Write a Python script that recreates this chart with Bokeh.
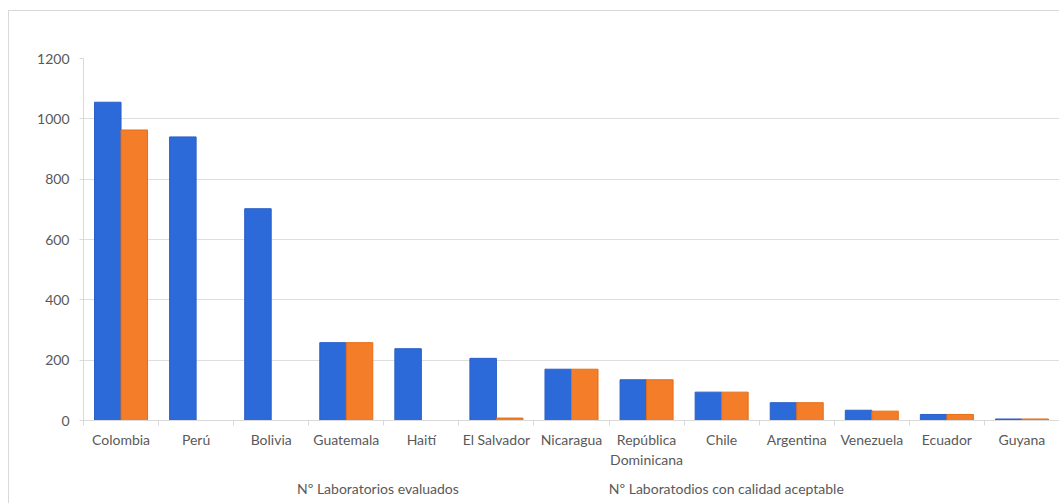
from bokeh.plotting import figure
from bokeh.layouts import column
from bokeh.models import (ColumnDataSource, Range1d, LinearAxis, FixedTicker, Legend, LegendItem)
from bokeh.embed import file_html
from bokeh.resources import INLINE

paises = ["Colombia", "Perú", "Bolivia", "Guatemala", "Haití", "El Salvador", "Nicaragua",
          "República\nDominicana", "Chile", "Argentina", "Venezuela", "Ecuador", "Guyana"]
evaluados = [1055, 940, 702, 258, 238, 206, 170, 135, 94, 59, 34, 20, 5]
aceptables = [963, 0, 0, 258, 0, 8, 170, 135, 94, 59, 31, 20, 5]
y_ticks = [0, 200, 400, 600, 800, 1000, 1200]

serie_1 = "Nº Laboratorios evaluados"
serie_2 = "Nº Laboratodios con calidad aceptable"

AZUL = "#2d6ad9"
NARANJA = "#f47d29"
BORDE_AZUL = "#2a5fc6"
BORDE_NARANJA = "#e56d17"
GRIS_TXT = "#595959"
GRIS_LIN = "#d9d9d9"
FUENTE = "Lato"

n = len(paises)
w = 0.353
centros = [i + 0.5 for i in range(n)]
limites = list(range(n + 1))
src = ColumnDataSource(dict(
    x_ev=[c - w / 2 for c in centros], x_ac=[c + w / 2 for c in centros],
    evaluados=evaluados, aceptables=aceptables))

p = figure(x_range=Range1d(0, n), y_range=Range1d(0, 1200),
           width=1050, height=462, output_backend="svg", toolbar_location=None,
           x_axis_location=None, min_border_left=74, min_border_right=0,
           min_border_top=47, min_border_bottom=53)
p.outline_line_color = None
p.background_fill_color = "white"
p.border_fill_color = "white"

p.vbar(x="x_ev", top="evaluados", width=w, source=src,
       fill_color=AZUL, line_color=BORDE_AZUL, line_width=1)
p.vbar(x="x_ac", top="aceptables", width=w, source=src,
       fill_color=NARANJA, line_color=BORDE_NARANJA, line_width=1)

# y axis
yax = p.yaxis[0]
yax.ticker = FixedTicker(ticks=y_ticks)
yax.axis_line_color = GRIS_LIN
yax.major_tick_line_color = GRIS_LIN
yax.major_tick_in = 0
yax.major_tick_out = 4
yax.minor_tick_line_color = None
yax.major_label_standoff = 10
yax.major_label_text_font = FUENTE
yax.major_label_text_font_size = "14px"
yax.major_label_text_color = GRIS_TXT

p.ygrid.ticker = FixedTicker(ticks=y_ticks)
p.ygrid.grid_line_color = "#dedede"
p.xgrid.grid_line_color = None

# category labels at slot centres, small tick marks at slot boundaries
cat_ax = LinearAxis(ticker=FixedTicker(ticks=centros, minor_ticks=limites),
                    major_label_overrides={c: nombre for c, nombre in zip(centros, paises)})
cat_ax.axis_line_color = GRIS_LIN
cat_ax.major_tick_line_color = None
cat_ax.major_tick_out = 0
cat_ax.major_tick_in = 0
cat_ax.minor_tick_line_color = GRIS_LIN
cat_ax.minor_tick_out = 5
cat_ax.minor_tick_in = 0
cat_ax.major_label_standoff = 5
cat_ax.major_label_text_font = FUENTE
cat_ax.major_label_text_font_size = "14px"
cat_ax.major_label_text_color = GRIS_TXT
p.add_layout(cat_ax, "below")

# legend strip under the chart (its frame lines up with the chart frame)
leg_fig = figure(x_range=Range1d(0, 1), y_range=Range1d(0, 1),
                 width=1050, height=30, output_backend="svg", toolbar_location=None,
                 x_axis_location=None, y_axis_location=None,
                 min_border_left=0, min_border_right=0, min_border_top=0, min_border_bottom=0)
leg_fig.outline_line_color = None
leg_fig.grid.grid_line_color = None
leg_fig.border_fill_color = "white"
vacio = ColumnDataSource(dict(x=[], top=[]))
g1 = leg_fig.vbar(x="x", top="top", width=0.1, source=vacio,
                  fill_color=AZUL, line_color=BORDE_AZUL, line_width=1)
g2 = leg_fig.vbar(x="x", top="top", width=0.1, source=vacio,
                  fill_color=NARANJA, line_color=BORDE_NARANJA, line_width=1)

legend = Legend(items=[LegendItem(label=serie_1, renderers=[g1]),
                       LegendItem(label=serie_2, renderers=[g2])],
                orientation="horizontal", location=(202, 6))
legend.glyph_width = 8
legend.glyph_height = 8
legend.label_standoff = 4
legend.spacing = 138
legend.padding = 0
legend.margin = 0
legend.border_line_color = None
legend.background_fill_alpha = 0
legend.label_text_font = FUENTE
legend.label_text_font_size = "14px"
legend.label_text_color = GRIS_TXT
leg_fig.add_layout(legend, "center")

layout = column(p, leg_fig, styles={"margin-left": "8px", "margin-top": "10px",
                                    "border-left": f"1px solid {GRIS_LIN}",
                                    "border-top": f"1px solid {GRIS_LIN}"})

open("out.html", "w").write(file_html(layout, INLINE))
